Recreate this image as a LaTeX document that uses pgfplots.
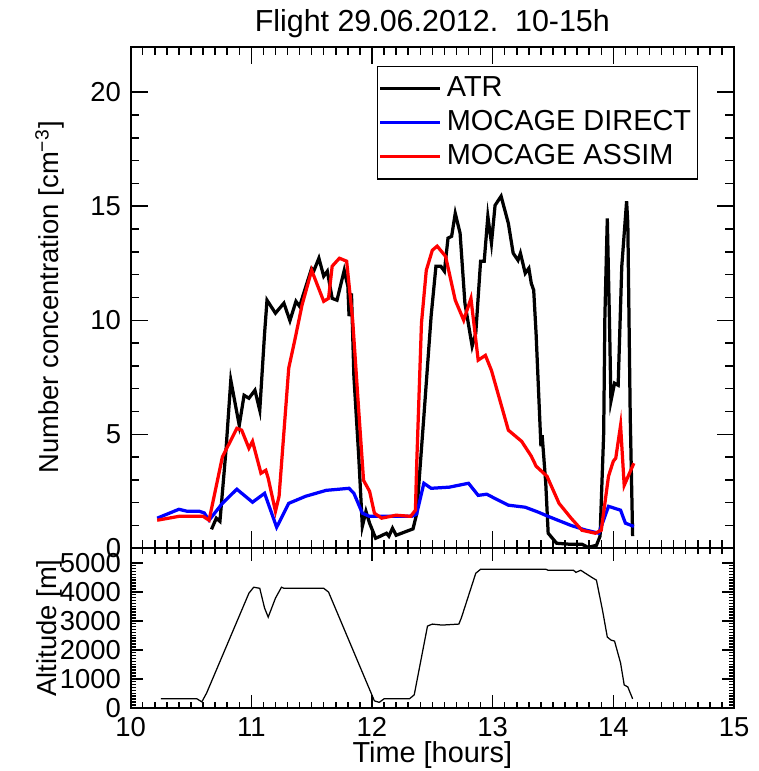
\documentclass[border=0pt]{standalone}
\usepackage{fontspec}
\setmainfont{Liberation Sans}
\usepackage{pgfplots}
\pgfplotsset{compat=1.18}

\pgfplotsset{
  flight/.style={
    scale only axis,
    width=242pt,
    xmin=10, xmax=15,
    xtick={10,11,...,15},
    minor x tick num=9,
    tick align=inside,
    xtick pos=both, ytick pos=both,
    axis line style={line width=0.8pt},
    tick style={black, line width=0.6pt},
    /pgf/number format/assume math mode=true,
    ticklabel style={font=\fontsize{11}{13}\selectfont},
    label style={font=\fontsize{11.6}{14}\selectfont},
    every axis y label/.style={at={(axis description cs:-0.134,0.5)}, rotate=90, anchor=center},
  },
}

\begin{document}
\fontsize{11}{13}\selectfont
\begin{tikzpicture}
\begin{axis}[
  flight,
  name=upper,
  height=201.2pt,
  ymin=0, ymax=22,
  ytick={0,5,...,20},
  minor y tick num=4,
  xticklabels={},
  major tick length=7pt,
  minor tick length=3.5pt,
  ylabel={Number concentration [cm\textsuperscript{−3}]},
  title={Flight 29.06.2012.\ \ 10-15h},
  title style={font=\fontsize{12.2}{14}\selectfont, yshift=-6.2pt},
  legend cell align=left,
  legend style={at={(0.9405,0.962)}, anchor=north east, draw=black, line width=0.6pt,
    font=\fontsize{11.6}{14}\selectfont, row sep=0pt, inner xsep=0.5pt, inner ysep=2pt},
  legend image code/.code={\draw[#1] (0pt,0pt) -- (24pt,0pt);},
]
\addplot[black, line width=1.3pt] coordinates {
(10.67,0.83) (10.71,1.32) (10.74,1.18) (10.79,4.3) (10.83,7.37) (10.90,5.39)
(10.94,6.71) (10.98,6.58) (11.03,6.93) (11.07,6.05) (11.11,9.43) (11.13,10.88)
(11.20,10.31) (11.27,10.75) (11.32,9.98) (11.37,10.83) (11.40,10.61) (11.50,12.28)
(11.52,12.19) (11.56,12.72) (11.60,11.93) (11.63,12.15) (11.67,10.96) (11.71,10.88)
(11.77,12.19) (11.80,11.49) (11.81,10.18) (11.83,11.18) (11.85,7.54) (11.89,4.04)
(11.92,0.96) (11.95,1.62) (11.98,1.1) (12.03,0.44) (12.07,0.53) (12.12,0.66)
(12.14,0.53) (12.17,0.88) (12.20,0.57) (12.31,0.79) (12.34,0.85) (12.37,1.5)
(12.43,5.79) (12.49,10.18) (12.53,12.37) (12.57,12.37) (12.60,12.15) (12.63,13.6)
(12.66,13.68) (12.69,14.69) (12.73,13.82) (12.77,10.75) (12.83,8.86) (12.86,9.43)
(12.90,12.59) (12.93,12.59) (12.96,14.56) (12.99,13.38) (13.02,15.04) (13.07,15.44)
(13.09,15.04) (13.13,14.25) (13.17,12.94) (13.21,12.63) (13.23,12.94) (13.27,12.06)
(13.30,12.28) (13.32,11.62) (13.34,11.32) (13.36,9.4) (13.40,4.47) (13.41,4.96)
(13.44,2.85) (13.46,0.66) (13.53,0.22) (13.63,0.18) (13.74,0.18) (13.79,0.04)
(13.86,0.13) (13.89,0.53) (13.92,5.04) (13.93,10.18) (13.95,14.47) (13.97,9.43)
(13.98,6.45) (14.01,7.24) (14.04,7.15) (14.07,12.37) (14.11,15.22) (14.12,14.25)
(14.14,5.79) (14.16,0.53)
};
\addlegendentry{ATR}
\addplot[blue, line width=1.3pt] coordinates {
(10.22,1.32) (10.40,1.71) (10.47,1.62) (10.57,1.62) (10.61,1.55) (10.65,1.23)
(10.76,1.97) (10.88,2.59) (11.01,2.02) (11.11,2.41) (11.21,0.92) (11.31,1.97)
(11.45,2.28) (11.62,2.54) (11.81,2.63) (11.85,2.41) (11.92,1.54) (11.98,1.4)
(12.33,1.4) (12.37,1.5) (12.43,2.85) (12.49,2.63) (12.64,2.68) (12.80,2.85)
(12.88,2.32) (12.95,2.37) (13.13,1.89) (13.27,1.80) (13.38,1.58) (13.46,1.4)
(13.65,1.0) (13.77,0.8) (13.88,0.66) (13.96,1.84) (14.06,1.67) (14.10,1.1)
(14.17,0.96)
};
\addlegendentry{MOCAGE DIRECT}
\addplot[red, line width=1.3pt] coordinates {
(10.22,1.23) (10.40,1.4) (10.60,1.4) (10.65,1.23) (10.76,4.0) (10.88,5.26)
(10.92,5.18) (10.98,4.39) (11.01,4.69) (11.08,3.29) (11.12,3.42) (11.14,3.07)
(11.20,1.62) (11.23,2.28) (11.29,6.49) (11.31,7.9) (11.36,9.12) (11.42,10.66)
(11.50,12.19) (11.60,10.83) (11.64,10.96) (11.67,12.37) (11.73,12.72) (11.79,12.59)
(11.84,10.0) (11.89,6.05) (11.93,2.98) (11.98,2.5) (12.02,1.54) (12.08,1.32)
(12.20,1.45) (12.32,1.40) (12.36,1.67) (12.37,3.6) (12.41,9.87) (12.45,12.19)
(12.50,13.07) (12.54,13.25) (12.61,12.8) (12.69,10.88) (12.76,10.0) (12.82,10.96)
(12.88,8.25) (12.94,8.46) (12.99,7.8) (13.13,5.18) (13.24,4.69) (13.32,4.04)
(13.36,3.6) (13.45,3.16) (13.55,1.97) (13.65,1.32) (13.74,0.79) (13.85,0.66)
(13.90,0.79) (13.96,3.16) (14.00,3.82) (14.02,3.95) (14.06,5.39) (14.09,2.76)
(14.17,3.73)
};
\addlegendentry{MOCAGE ASSIM}
\end{axis}

\begin{axis}[
  flight,
  at={(upper.south west)}, anchor=north west,
  height=64pt,
  ymin=0, ymax=5500,
  ytick={0,1000,...,5000},
  minor y tick num=9,
  major tick length=5pt,
  minor tick length=2.2pt,
  scaled y ticks=false,
  yticklabel style={/pgf/number format/1000 sep={}},
  ylabel={Altitude [m]},
  xlabel={Time [hours]},
  xlabel style={yshift=3pt, inner ysep=1pt},
]
\addplot[black, line width=0.5pt] coordinates {
(10.25,310) (10.55,310) (10.59,206) (10.63,515) (10.98,3950) (11.02,4158)
(11.07,4120) (11.11,3436) (11.14,3127) (11.20,3780) (11.25,4158) (11.27,4120)
(11.60,4120) (11.64,3990) (12.02,240) (12.06,190) (12.10,310) (12.31,310)
(12.35,447) (12.46,2818) (12.50,2887) (12.58,2852) (12.72,2887) (12.74,3093)
(12.86,4639) (12.90,4777) (13.44,4777) (13.46,4742) (13.67,4742) (13.69,4670)
(13.73,4742) (13.82,4500) (13.86,4400) (13.91,3370) (13.95,2440) (13.98,2337)
(14.01,2300) (14.06,1546) (14.09,790) (14.12,720) (14.16,310)
};
\end{axis}
% blank margin left of the labels, as in the original figure
\path ([xshift=-52.4pt]upper.south west) -- ++(0,1pt);
\end{tikzpicture}
\end{document}
